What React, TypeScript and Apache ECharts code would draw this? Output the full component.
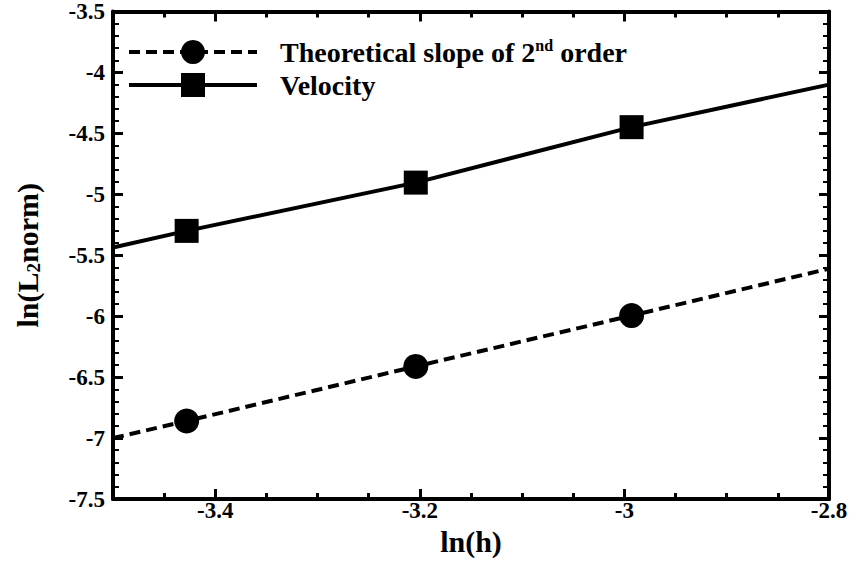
import React, { useEffect, useRef } from "react";
import * as echarts from "echarts";

const xRange = [-3.5, -2.8];
const yRange = [-7.5, -3.5];
const xMajorTicks = [-3.4, -3.2, -3, -2.8];
const xPoints = [-3.428, -3.204, -2.993];
const velocity = [-5.3, -4.904, -4.449];
const velocityEnds = [-5.436, -4.1];
const theoretical = [-6.86, -6.412, -5.995];
const theoreticalEnds = [-7.0, -5.61];
const seriesNames = ["Theoretical slope of 2nd order", "Velocity"];

const FONT = "Liberation Serif";

function buildLine(ys: number[], ends: number[]) {
  return [
    { value: [xRange[0], ends[0]], symbol: "none" },
    ...xPoints.map((x, i) => [x, ys[i]]),
    { value: [xRange[1], ends[1]], symbol: "none" },
  ];
}

export default function App() {
  const ref = useRef<HTMLDivElement>(null);
  useEffect(() => {
    if (!ref.current) return;
    const chart = echarts.init(ref.current, undefined, { renderer: "svg" });
    const black = "#000";
    const axisLine = { show: true, onZero: false, lineStyle: { color: black, width: 4 } };
    const xBase: any = { type: "value", min: xRange[0], max: xRange[1], splitLine: { show: false } };
    const yBase: any = {
      type: "value",
      min: yRange[0],
      max: yRange[1],
      interval: 0.5,
      splitLine: { show: false },
      axisLine,
      axisTick: { show: true, inside: true, length: 10, lineStyle: { color: black, width: 3 } },
      minorTick: { show: true, splitNumber: 5, length: 6, lineStyle: { color: black, width: 2 } },
      minorSplitLine: { show: false },
    };
    const option: any = {
      animation: false,
      backgroundColor: "#fff",
      textStyle: { fontFamily: FONT },
      grid: { left: 113, right: 28, top: 10, bottom: 65 },
      legend: {
        orient: "vertical",
        left: 127,
        top: 37,
        padding: 0,
        itemWidth: 128,
        itemHeight: 30,
        itemGap: 5,
        selectedMode: false,
        data: seriesNames,
        lineStyle: { width: 4 },
        formatter: (name: string) =>
          name === seriesNames[0]
            ? "{g|}{a|Theoretical slope of 2}{s|nd}{a| order}"
            : "{g|}{a|" + name + "}",
        textStyle: {
          fontFamily: FONT,
          fontWeight: "bold",
          fontSize: 28,
          color: black,
          rich: {
            g: { width: 18 },
            a: { fontFamily: FONT, fontWeight: "bold", fontSize: 28, lineHeight: 30, color: black },
            s: { fontFamily: FONT, fontWeight: "bold", fontSize: 16, lineHeight: 20, verticalAlign: "top", color: black },
          },
        },
      },
      xAxis: [
        {
          ...xBase,
          position: "bottom",
          interval: 0.1,
          axisLine,
          axisTick: { show: true, inside: true, length: 10, customValues: xMajorTicks, lineStyle: { color: black, width: 3 } },
          axisLabel: {
            customValues: xMajorTicks,
            formatter: (v: number) => String(v),
            margin: 0,
            fontFamily: FONT,
            fontWeight: "bold",
            fontSize: 23,
            color: black,
          },
          name: "ln(h)",
          nameLocation: "middle",
          nameGap: 22,
          nameTextStyle: { fontFamily: FONT, fontWeight: "bold", fontSize: 30, color: black },
        },
        {
          ...xBase,
          position: "bottom",
          interval: 0.05,
          axisLine: { show: false },
          axisTick: { show: true, inside: true, length: 6, lineStyle: { color: black, width: 3 } },
          axisLabel: { show: false },
        },
        {
          ...xBase,
          position: "top",
          interval: 0.1,
          axisLine,
          axisTick: { show: true, inside: true, length: 10, customValues: xMajorTicks, lineStyle: { color: black, width: 3 } },
          axisLabel: { show: false },
        },
        {
          ...xBase,
          position: "top",
          interval: 0.05,
          axisLine: { show: false },
          axisTick: { show: true, inside: true, length: 6, lineStyle: { color: black, width: 3 } },
          axisLabel: { show: false },
        },
      ],
      yAxis: [
        {
          ...yBase,
          position: "left",
          axisLabel: {
            formatter: (v: number) => String(v),
            margin: 8,
            fontFamily: FONT,
            fontWeight: "bold",
            fontSize: 23,
            color: black,
          },
          name: "{a|ln(L}{b|2}{a|norm)}",
          nameLocation: "middle",
          nameGap: 70,
          nameTextStyle: {
            fontFamily: FONT,
            fontWeight: "bold",
            fontSize: 30,
            color: black,
            rich: {
              a: { fontFamily: FONT, fontWeight: "bold", fontSize: 30, lineHeight: 32, color: black },
              b: { fontFamily: FONT, fontWeight: "bold", fontSize: 19, lineHeight: 15, verticalAlign: "bottom", color: black },
            },
          },
        },
        {
          ...yBase,
          position: "right",
          axisLabel: { show: false },
        },
      ],
      series: [
        {
          name: seriesNames[0],
          type: "line",
          xAxisIndex: 0,
          yAxisIndex: 0,
          data: buildLine(theoretical, theoreticalEnds),
          symbol: "circle",
          symbolSize: 25,
          itemStyle: { color: black },
          lineStyle: { color: black, width: 4, type: [11, 6] },
        },
        {
          name: seriesNames[1],
          type: "line",
          xAxisIndex: 0,
          yAxisIndex: 0,
          data: buildLine(velocity, velocityEnds),
          symbol: "rect",
          symbolSize: 24,
          itemStyle: { color: black },
          lineStyle: { color: black, width: 4 },
        },
      ],
    };
    chart.setOption(option);
    return () => chart.dispose();
  }, []);
  return (
    <div
      ref={ref}
      style={{ position: "fixed", left: 0, top: 0, width: 857, height: 564, background: "#fff" }}
    />
  );
}
